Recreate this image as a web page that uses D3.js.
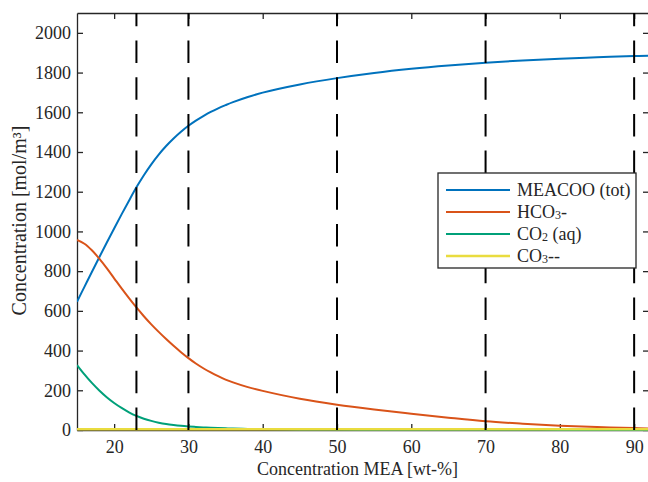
<!DOCTYPE html>
<html>
<head>
<meta charset="utf-8">
<script src="https://cdn.jsdelivr.net/npm/d3@7/dist/d3.min.js"></script>
<style>
  html, body { margin: 0; padding: 0; background: #fff; }
  svg { display: block; }
  text { font-family: "Liberation Serif", "Times New Roman", serif; fill: #262626; }
</style>
</head>
<body>
<svg id="chart" width="648" height="482"></svg>
<script>
// MEA concentration (wt-%)
const mea = [15, 16, 17, 18, 19, 20, 21, 22, 23, 24, 25, 26, 27, 28, 29, 30,
             31, 32, 33, 34, 35, 36, 38, 40, 45, 50, 55, 60, 65, 70, 75, 80, 85, 90, 92];

// species concentrations (mol/m3)
const meacoo = [646, 721, 796, 870, 943, 1015, 1086, 1155, 1222, 1283, 1338, 1387, 1430, 1468, 1502, 1532,
                1558, 1581, 1602, 1620, 1636, 1651, 1677, 1699, 1740, 1772, 1798, 1819, 1836, 1850, 1861, 1870, 1877, 1883, 1885];
const hco3 = [957, 938, 905, 863, 815, 764, 713, 664, 617, 573, 532, 494, 458, 424, 392, 362,
              335, 311, 290, 271, 254, 240, 216, 197, 157, 127, 103, 82, 62, 44, 32, 22, 15, 10, 8];
const co2aq = [327, 280, 237, 199, 165, 136, 111, 89, 71, 57, 46, 37, 30, 25, 21, 18,
               15.5, 13, 11, 9.5, 8.2, 7, 5.5, 4.5, 3, 2, 1.5, 1.2, 1, 0.8, 0.7, 0.6, 0.5, 0.5, 0.5];
const co3 = [4, 4, 4, 4, 4, 4, 4, 4, 4, 4, 4, 4, 4, 4, 4, 4,
             4, 4, 4, 4, 4, 4, 4, 4, 4, 4, 4, 4, 4, 4, 4, 4, 4, 4, 4];

const seriesNames = ["MEACOO (tot)", "HCO3-", "CO2 (aq)", "CO3--"];
const seriesColors = ["#0072BD", "#D95319", "#00A079", "#E9DC3F"];

// marked compositions
const markers = [23, 30, 50, 70, 90];

const xTicks = [20, 30, 40, 50, 60, 70, 80, 90];
const yTicks = [0, 200, 400, 600, 800, 1000, 1200, 1400, 1600, 1800, 2000];

const svg = d3.select("#chart");
const L = 77, R = 649, T = 13, B = 430;
const axisColor = "#262626";

const x = d3.scaleLinear().domain([15, 92]).range([L, R]);
const y = d3.scaleLinear().domain([0, 2100]).range([B, T]);

// axes first (box with inward ticks), data is drawn over them
const tickLen = 6;
const axB = svg.append("g").attr("transform", `translate(0,${B})`)
  .call(d3.axisBottom(x).tickValues(xTicks).tickSizeInner(-tickLen).tickSizeOuter(0).tickPadding(10));
const axT = svg.append("g").attr("transform", `translate(0,${T})`)
  .call(d3.axisTop(x).tickValues(xTicks).tickSizeInner(-tickLen).tickSizeOuter(0).tickFormat(""));
const axL = svg.append("g").attr("transform", `translate(${L},0)`)
  .call(d3.axisLeft(y).tickValues(yTicks).tickSizeInner(-tickLen).tickSizeOuter(0).tickPadding(6).tickFormat(d3.format("d")));
const axR = svg.append("g").attr("transform", `translate(${R},0)`)
  .call(d3.axisRight(y).tickValues(yTicks).tickSizeInner(-tickLen).tickSizeOuter(0).tickFormat(""));

[axB, axT, axL, axR].forEach(a => {
  a.select(".domain").attr("stroke", axisColor).attr("stroke-width", 1.3);
  a.selectAll(".tick line").attr("stroke", axisColor).attr("stroke-width", 1.3);
  a.selectAll(".tick text").attr("fill", axisColor)
    .style("font-family", "'Liberation Serif', serif").style("font-size", "18px");
});

svg.append("defs").append("clipPath").attr("id", "plotclip")
  .append("rect").attr("x", L).attr("y", T - 2).attr("width", R - L).attr("height", B - T + 4);

const plot = svg.append("g").attr("clip-path", "url(#plotclip)");

// curves
const allSeries = [meacoo, hco3, co2aq, co3];
const line = d3.line().x(d => x(d[0])).y(d => y(d[1])).curve(d3.curveCatmullRom.alpha(0.5));
allSeries.forEach((vals, i) => {
  plot.append("path")
    .datum(mea.map((m, j) => [m, vals[j]]))
    .attr("fill", "none")
    .attr("stroke", seriesColors[i])
    .attr("stroke-width", i === 3 ? 2.6 : 2)
    .attr("d", line);
});

// dashed reference lines
plot.selectAll("line.mark").data(markers).enter().append("line")
  .attr("class", "mark")
  .attr("x1", d => x(d)).attr("x2", d => x(d))
  .attr("y1", y(0)).attr("y2", y(2100))
  .attr("stroke", "#000").attr("stroke-width", 2)
  .attr("stroke-dasharray", "22.5,14.2");

// axis titles
svg.append("text")
  .attr("x", (L + 648) / 2 - 5).attr("y", 475)
  .attr("text-anchor", "middle").style("font-size", "18px")
  .text("Concentration MEA [wt-%]");

svg.append("text")
  .attr("transform", `translate(26,${(T + B) / 2 - 1}) rotate(-90)`)
  .attr("text-anchor", "middle").style("font-size", "20px")
  .text("Concentration [mol/m³]");

// legend
const lg = svg.append("g").attr("transform", "translate(438,173)");
lg.append("rect").attr("x", 0).attr("y", 0).attr("width", 198).attr("height", 95)
  .attr("fill", "#fff").attr("stroke", axisColor).attr("stroke-width", 1.3);

// label parts: [text, isSubscript]
const labelParts = [
  [["MEACOO (tot)", false]],
  [["HCO", false], ["3", true], ["-", false]],
  [["CO", false], ["2", true], [" (aq)", false]],
  [["CO", false], ["3", true], ["--", false]]
];

seriesNames.forEach((name, i) => {
  const cy = 17 + i * 22;
  lg.append("line").attr("x1", 8).attr("x2", 72).attr("y1", cy).attr("y2", cy)
    .attr("stroke", seriesColors[i]).attr("stroke-width", i === 3 ? 2.6 : 2);
  const t = lg.append("text").attr("x", 79).attr("y", cy + 6).style("font-size", "18px");
  labelParts[i].forEach(([s, sub]) => {
    const ts = t.append("tspan").text(s);
    if (sub) ts.style("font-size", "12px").attr("dy", 1);
    else if (t.selectAll("tspan").size() > 1) ts.attr("dy", -1);
  });
});
</script>
</body>
</html>
